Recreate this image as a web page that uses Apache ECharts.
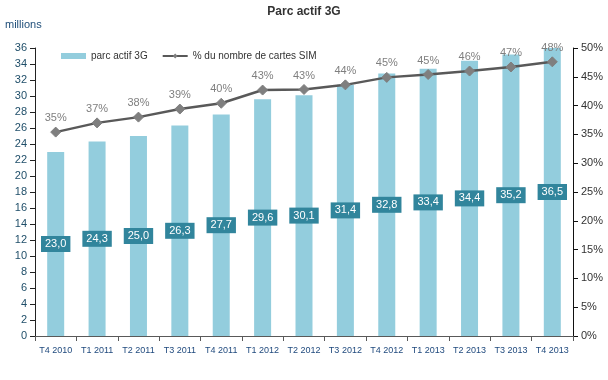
<!DOCTYPE html>
<html><head><meta charset="utf-8">
<script src="https://cdn.jsdelivr.net/npm/echarts@6/dist/echarts.min.js"></script>
<style>html,body{margin:0;padding:0;background:#fff}#c{width:608px;height:380px}</style>
</head><body><div id="c"></div>
<script>
const categories = ['T4 2010','T1 2011','T2 2011','T3 2011','T4 2011','T1 2012','T2 2012','T3 2012','T4 2012','T1 2013','T2 2013','T3 2013','T4 2013'];
const parcActif = [23.0, 24.3, 25.0, 26.3, 27.7, 29.6, 30.1, 31.4, 32.8, 33.4, 34.4, 35.2, 36.5];
const pctSim = [35.4, 37.0, 38.0, 39.4, 40.4, 42.7, 42.8, 43.6, 44.9, 45.4, 46.0, 46.7, 47.6];
const pctLabels = ['35%','37%','38%','39%','40%','43%','43%','44%','45%','45%','46%','47%','48%'];
const leftTicks = [0,2,4,6,8,10,12,14,16,18,20,22,24,26,28,30,32,34,36];
const rightTicks = [0,5,10,15,20,25,30,35,40,45,50];

const chart = echarts.init(document.getElementById('c'), null, {renderer:'canvas'});
const font = 'Arial, "Liberation Sans", sans-serif';
chart.setOption({
  animation:false,
  backgroundColor:'#fff',
  title:{text:'Parc actif 3G', left:'center', top:1, textStyle:{fontFamily:font, fontSize:12, fontWeight:'bold', color:'#333'}},
  graphic:[{type:'text', left:5, top:19, style:{text:'millions', font:'11px '+font, fill:'#1F4E79'}}],
  legend:{
    left:56, top:46, itemGap:14, itemWidth:25, itemHeight:6,
    textStyle:{fontFamily:font, fontSize:10, color:'#333'},
    data:[{name:'parc actif 3G', icon:'rect'}, {name:'% du nombre de cartes SIM'}]
  },
  grid:{left:35, right:35, top:48, bottom:44},
  xAxis:{
    type:'category', data:categories,
    axisLine:{lineStyle:{color:'#595959', width:1}},
    axisTick:{show:true, lineStyle:{color:'#595959'}},
    axisLabel:{fontFamily:font, fontSize:9, color:'#1F497D', margin:10, interval:0}
  },
  yAxis:[{
    type:'value', min:leftTicks[0], max:leftTicks[leftTicks.length-1], interval:2,
    axisLine:{show:true, lineStyle:{color:'#222'}},
    axisTick:{show:true, lineStyle:{color:'#222'}},
    splitLine:{show:false},
    axisLabel:{fontFamily:font, fontSize:11, color:'#1F4E69', margin:8}
  },{
    type:'value', min:rightTicks[0], max:rightTicks[rightTicks.length-1], interval:5,
    axisLine:{show:true, lineStyle:{color:'#111'}},
    axisTick:{show:true, lineStyle:{color:'#111'}},
    splitLine:{show:false},
    axisLabel:{fontFamily:font, fontSize:11, color:'#333', margin:8, formatter:v=>v+'%'}
  }],
  series:[{
    name:'parc actif 3G', type:'bar', data:parcActif, barWidth:17, yAxisIndex:0,
    itemStyle:{color:'#93CDDD'},
    label:{show:true, position:'inside', formatter:p=>p.value.toFixed(1).replace('.',','),
      color:'#fff', backgroundColor:'#31859C', padding:[3,4,2,4], fontFamily:font, fontSize:11}
  },{
    name:'% du nombre de cartes SIM', type:'line', data:pctSim, yAxisIndex:1,
    symbol:'diamond', symbolSize:10, lineStyle:{color:'#595959', width:2.5},
    itemStyle:{color:'#7F7F7F', borderColor:'#7F7F7F'},
    label:{show:true, position:'top', distance:3, formatter:p=>pctLabels[p.dataIndex], color:'#7F7F7F', fontFamily:font, fontSize:11}
  }]
});
</script></body></html>
